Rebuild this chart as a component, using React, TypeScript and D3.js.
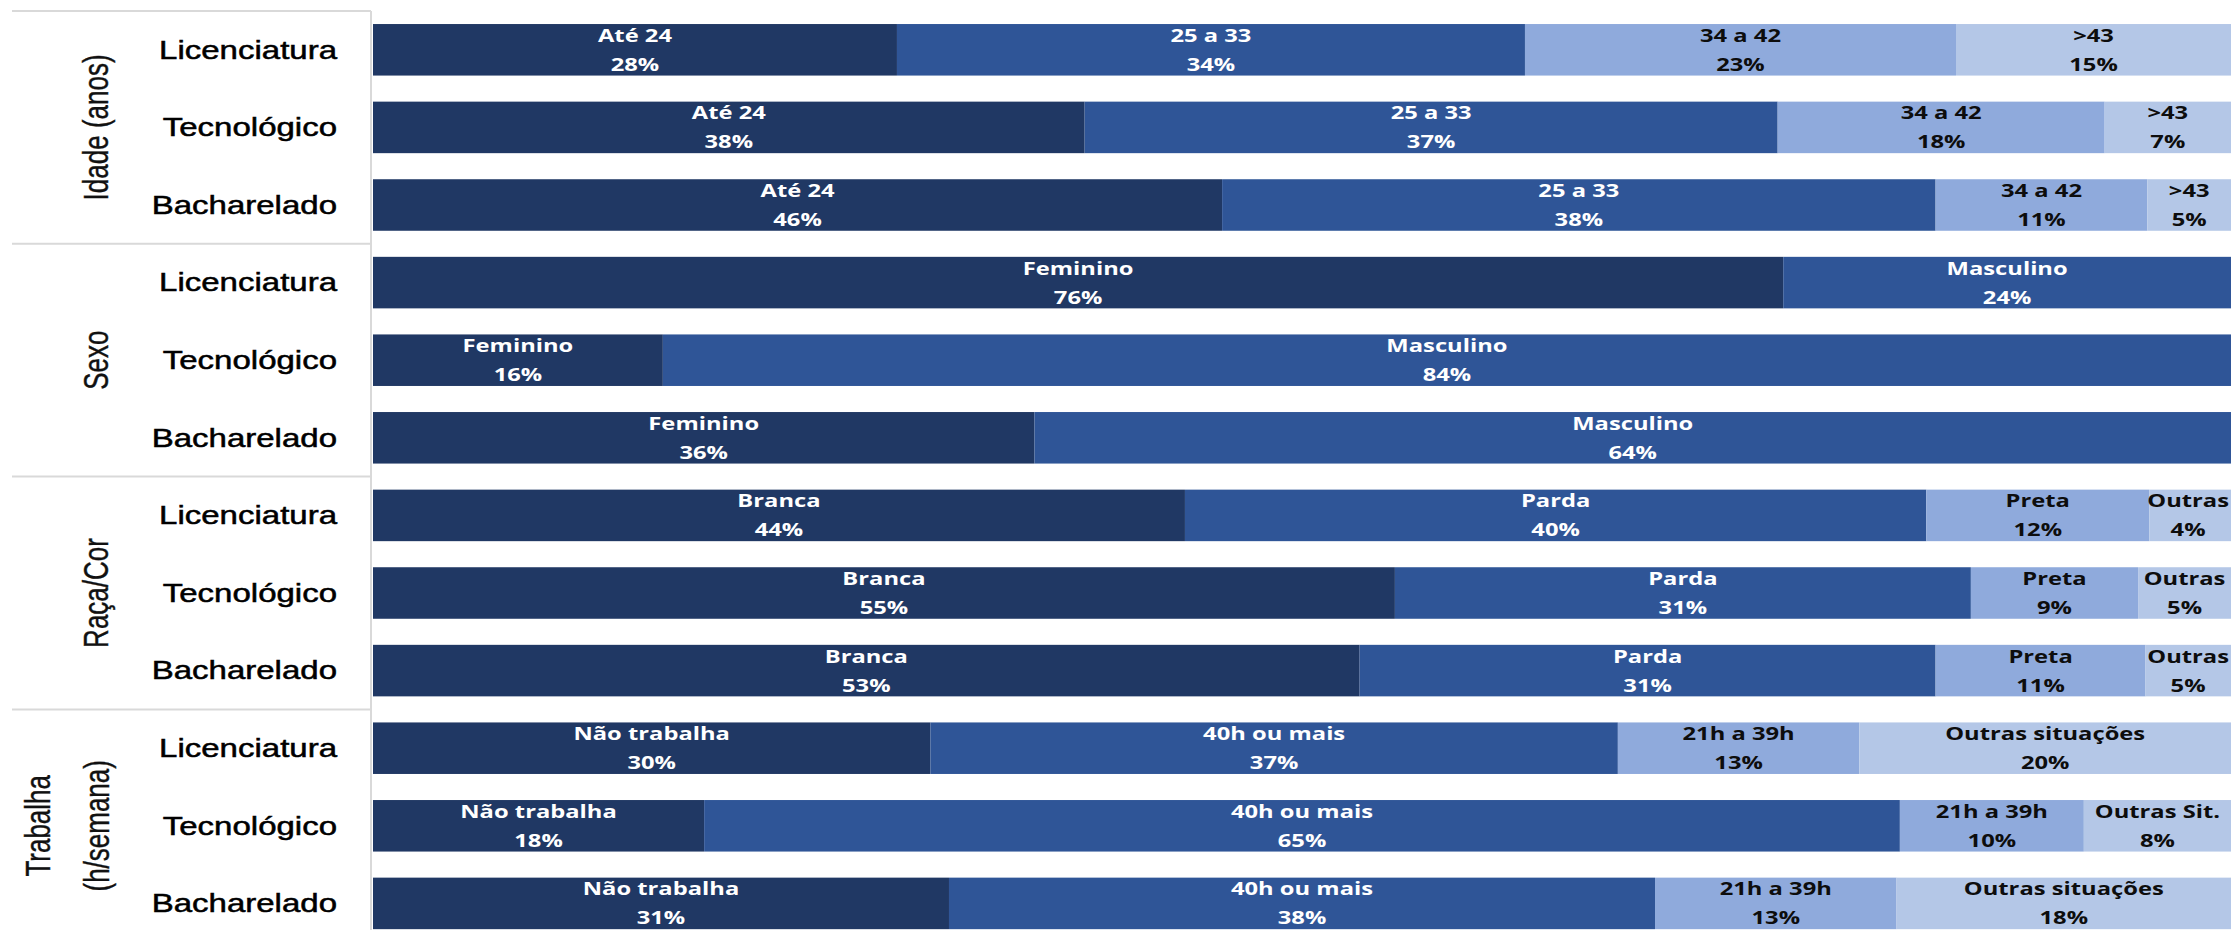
import React from "react";
import * as d3 from "d3";

// ---- data ----
const courses = ["Licenciatura", "Tecnológico", "Bacharelado"];

const groupTitles = [["Idade (anos)"], ["Sexo"], ["Raça/Cor"], ["Trabalha", "(h/semana)"]];

const idadeLabels = [
  ["Até 24", "25 a 33", "34 a 42", ">43"],
  ["Até 24", "25 a 33", "34 a 42", ">43"],
  ["Até 24", "25 a 33", "34 a 42", ">43"],
];
const idadeValues = [
  [28.2, 33.8, 23.2, 14.8],
  [38.3, 37.3, 17.6, 6.8],
  [45.7, 38.4, 11.4, 4.5],
];

const sexoLabels = [
  ["Feminino", "Masculino"],
  ["Feminino", "Masculino"],
  ["Feminino", "Masculino"],
];
const sexoValues = [
  [75.9, 24.1],
  [15.6, 84.4],
  [35.6, 64.4],
];

const racaLabels = [
  ["Branca", "Parda", "Preta", "Outras"],
  ["Branca", "Parda", "Preta", "Outras"],
  ["Branca", "Parda", "Preta", "Outras"],
];
const racaValues = [
  [43.7, 39.9, 12.0, 4.4],
  [55, 31, 9, 5],
  [53.1, 31.0, 11.3, 4.6],
];

const trabalhoLabels = [
  ["Não trabalha", "40h ou mais", "21h a 39h", "Outras situações"],
  ["Não trabalha", "40h ou mais", "21h a 39h", "Outras Sit."],
  ["Não trabalha", "40h ou mais", "21h a 39h", "Outras situações"],
];
const trabalhoValues = [
  [30, 37, 13, 20],
  [18, 65, 10, 8],
  [31, 38, 13, 18],
];

const segmentColors = ["#203864", "#2F5597", "#8FAADC", "#B4C7E7"];
const segmentTextColors = ["#ffffff", "#ffffff", "#0d0d0d", "#0d0d0d"];

// ---- layout ----
const W = 2231;
const H = 930;
const SX = 1.32; // horizontal stretch of the original artwork
const barLeft = 373;
const barRight = 2231;
const axisX = 371;
const lineLeft = 12;
const catLabelX = 337;
const labelFont = "'Open Sans', sans-serif";
const labelSize = 18;

const groupLabels = [idadeLabels, sexoLabels, racaLabels, trabalhoLabels];
const groupValues = [idadeValues, sexoValues, racaValues, trabalhoValues];

type Row = { key: string; course: string; labels: string[]; values: number[] };
const rows: Row[] = [];
groupValues.forEach((gv, g) =>
  gv.forEach((vals, c) =>
    rows.push({ key: `${g}-${c}`, course: courses[c], labels: groupLabels[g][c], values: vals })
  )
);

const step = 77.6;
const y = d3
  .scaleBand<string>()
  .domain(rows.map((r) => r.key))
  .range([11, 11 + rows.length * step])
  .paddingInner(0.336)
  .paddingOuter(0.168);

const gray = "#d9d9d9";

let measureCtx: CanvasRenderingContext2D | null = null;
function textWidth(t: string): number {
  if (!measureCtx) {
    const c = document.createElement("canvas");
    measureCtx = c.getContext("2d");
  }
  if (!measureCtx) return t.length * labelSize * 0.6 * SX;
  measureCtx.font = `700 ${labelSize}px ${labelFont}`;
  return measureCtx.measureText(t).width * SX;
}

export default function App() {
  const groupBounds = groupTitles.map((_, g) => {
    const top = 11 + g * 3 * step;
    return { top, bottom: top + 3 * step, mid: top + 1.5 * step };
  });

  return (
    <svg
      width={W}
      height={H}
      style={{ position: "absolute", left: 0, top: 0, background: "#ffffff" }}
    >
      {/* separators */}
      {groupBounds.map((b, g) => (
        <line key={`sep${g}`} x1={lineLeft} x2={axisX} y1={b.top} y2={b.top} stroke={gray} strokeWidth={2} />
      ))}
      <line x1={axisX} x2={axisX} y1={11} y2={H} stroke={gray} strokeWidth={2} />

      {/* group titles */}
      {groupTitles.map((lines, g) => {
        const b = groupBounds[g];
        const xs = lines.length === 1 ? [96] : [38, 97];
        return lines.map((t, i) => (
          <text
            key={`gt${g}-${i}`}
            transform={`translate(${xs[i]},${b.mid}) scale(${SX},1) rotate(-90)`}
            textAnchor="middle"
            dy="0.35em"
            fontFamily="'Liberation Sans', Arial, sans-serif"
            fontSize={26}
            fill="#111"
            stroke="#111"
            strokeWidth={0.3}
          >
            {t}
          </text>
        ));
      })}

      {/* rows */}
      {rows.map((r) => {
        const y0 = y(r.key)!;
        const bh = y.bandwidth();
        const cy = y0 + bh / 2;
        const total = d3.sum(r.values);
        const x = d3.scaleLinear().domain([0, total]).range([barLeft, barRight]);
        const cum = [0, ...d3.cumsum(r.values)];
        return (
          <g key={r.key}>
            <text
              transform={`translate(${catLabelX},${cy}) scale(${SX},1)`}
              textAnchor="end"
              dy="0.35em"
              fontFamily="'Liberation Sans', Arial, sans-serif"
              fontSize={25}
              fill="#000"
              stroke="#000"
              strokeWidth={0.5}
            >
              {r.course}
            </text>
            {r.values.map((v, i) => (
              <rect
                key={`r${i}`}
                x={x(cum[i])}
                y={y0}
                width={x(cum[i + 1]) - x(cum[i])}
                height={bh}
                fill={segmentColors[i]}
              />
            ))}
            {r.values.map((v, i) => {
              const pct = `${Math.round(v)}%`;
              const half = Math.max(textWidth(r.labels[i]), textWidth(pct)) / 2;
              let cx = (x(cum[i]) + x(cum[i + 1])) / 2;
              cx = Math.min(cx, W - 2 - half);
              return (
                <g key={`t${i}`} fontFamily={labelFont} fontWeight={700} fontSize={labelSize} fill={segmentTextColors[i]}>
                  <text transform={`translate(${cx},${cy - 8}) scale(${SX},1)`} textAnchor="middle">
                    {r.labels[i]}
                  </text>
                  <text transform={`translate(${cx},${cy + 21}) scale(${SX},1)`} textAnchor="middle">
                    {pct}
                  </text>
                </g>
              );
            })}
          </g>
        );
      })}
    </svg>
  );
}
